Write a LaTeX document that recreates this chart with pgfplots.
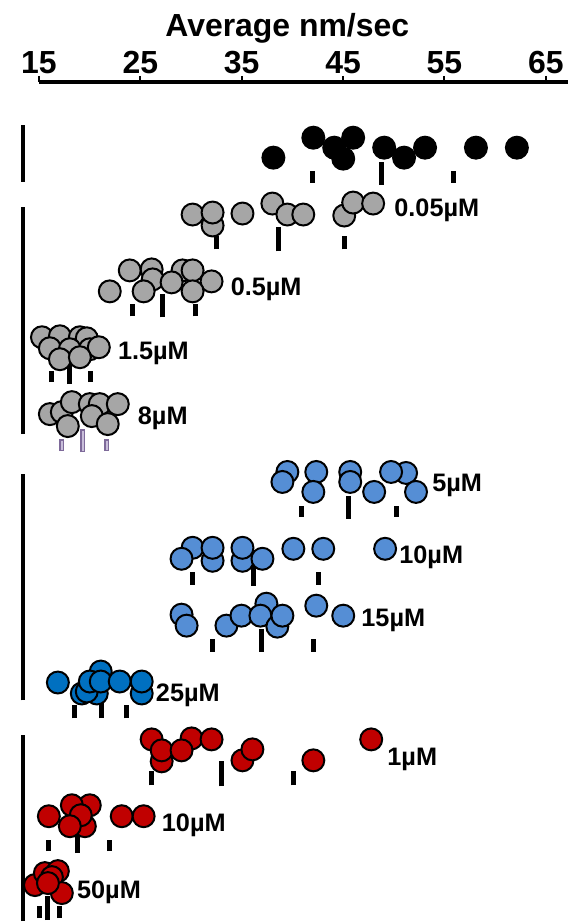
\documentclass[border=0pt]{standalone}
\usepackage{pgfplots}
\pgfplotsset{compat=1.18}
\usepackage{fontspec}
\setmainfont{Liberation Sans}
\definecolor{cgray}{HTML}{A6A6A6}
\definecolor{cblue}{HTML}{558ED5}
\definecolor{cdblue}{HTML}{0070C0}
\definecolor{cred}{HTML}{C00000}
\definecolor{cpurple}{HTML}{7E6A9A}
\definecolor{clpurple}{HTML}{C9BEDA}
\begin{document}
\begin{tikzpicture}
\begin{axis}[
  scale only axis, width=397.5pt, height=630.75pt,
  xmin=15, xmax=67.17, ymin=0, ymax=841,
  axis x line*=top, axis y line*=left,
  axis line style={line width=2.6pt},
  y axis line style={draw=none}, ytick=\empty,
  x axis line style={draw=black, line width=2.6pt},
  xtick={15,25,35,45,55,65},
  tick align=outside, major tick length=4.5pt,
  tick style={line width=1.6pt, black},
  xticklabel style={font=\fontsize{24}{24}\selectfont\bfseries, anchor=base, yshift=2pt},
  /pgf/number format/assume math mode=true,
  clip=false,
  unbounded coords=jump,
  every axis plot/.append style={forget plot},
]
% group brackets
\addplot[no marks, line width=3pt, black] coordinates {(13.43,741)(13.43,798)(nan,nan)(13.43,488)(13.43,716)(nan,nan)(13.43,221)(13.43,448)(nan,nan)(13.43,0)(13.43,186)};

% ---------- black row ----------
\addplot[only marks, mark=*, mark size=8.25pt, mark options={fill=black, draw=black, line width=1.5pt}] coordinates {
(38.13,765)(42.07,785)(44.13,775)(45.02,764)(46.00,785)(49.06,775)(51.02,765)(53.09,775)(58.11,775)(62.15,775)};
\addplot[no marks, line width=3.75pt, black] coordinates {(41.97,740)(41.97,752)(nan,nan)(48.76,738)(48.76,761)(nan,nan)(55.85,740)(55.85,752)};

% ---------- gray 0.05 ----------
\addplot[only marks, mark=*, mark size=8.25pt, mark options={fill=cgray, draw=black, line width=1.5pt}] coordinates {
(32.13,697)(30.16,708)(32.13,710)(35.08,709)(38.03,719)(39.51,708)(41.08,708)(45.12,707)(46.00,720)(47.97,719)};
\addplot[no marks, line width=3.75pt, black] coordinates {(32.52,673)(32.52,686)(nan,nan)(38.62,671)(38.62,695)(nan,nan)(45.12,673)(45.12,686)};

% ---------- gray 0.5 ----------
\addplot[only marks, mark=*, mark size=8.25pt, mark options={fill=cgray, draw=black, line width=1.5pt}] coordinates {
(23.96,652)(26.12,653)(29.17,652)(30.16,652)(26.22,643)(28.09,640)(32.03,641)(21.99,631)(25.33,631)(30.16,631)};
\addplot[no marks, line width=3.75pt, black] coordinates {(24.25,606)(24.25,618)(nan,nan)(27.20,605)(27.20,628)(nan,nan)(30.45,606)(30.45,618)};

% ---------- gray 1.5 ----------
\addplot[only marks, mark=*, mark size=8.25pt, mark options={fill=cgray, draw=black, line width=1.5pt}] coordinates {
(15.30,585)(17.07,586)(19.04,585)(19.72,584)(16.08,574)(18.05,573)(20.02,573)(20.91,575)(17.07,563)(19.04,565)};
\addplot[no marks, line width=3.75pt, black] coordinates {(16.28,540)(16.28,551)(nan,nan)(18.05,538)(18.05,560)(nan,nan)(20.12,540)(20.12,551)};

% ---------- gray 8 ----------
\addplot[only marks, mark=*, mark size=8.25pt, mark options={fill=cgray, draw=black, line width=1.5pt}] coordinates {
(16.08,508)(17.26,510)(18.25,520)(20.02,518)(21.00,518)(22.78,518)(17.85,496)(20.22,506)(21.79,498)};
\addplot[no marks, line width=3.75pt, cpurple] coordinates {(17.26,471)(17.26,483)(nan,nan)(19.33,470)(19.33,493)(nan,nan)(21.69,471)(21.69,483)};
\addplot[no marks, line width=1.5pt, clpurple] coordinates {(17.26,472.5)(17.26,481.5)(nan,nan)(19.33,471.5)(19.33,491.5)(nan,nan)(21.69,472.5)(21.69,481.5)};

% ---------- blue 5 ----------
\addplot[only marks, mark=*, mark size=8.25pt, mark options={fill=cblue, draw=black, line width=1.5pt}] coordinates {
(39.51,450)(39.02,440)(42.36,450)(42.07,430)(45.71,450)(45.71,440)(48.07,430)(51.22,449)(49.74,450)(52.20,430)};
\addplot[no marks, line width=3.75pt, black] coordinates {(40.89,405)(40.89,416)(nan,nan)(45.51,403)(45.51,426)(nan,nan)(50.24,405)(50.24,416)};

% ---------- blue 10 ----------
\addplot[only marks, mark=*, mark size=8.25pt, mark options={fill=cblue, draw=black, line width=1.5pt}] coordinates {
(30.16,374)(29.07,363)(32.13,361)(32.13,374)(35.08,361)(35.08,374)(37.05,363)(40.10,373)(43.05,373)(49.15,373)};
\addplot[no marks, line width=3.75pt, black] coordinates {(30.16,337)(30.16,350)(nan,nan)(36.16,336)(36.16,360)(nan,nan)(42.56,337)(42.56,350)};

% ---------- blue 15 ----------
\addplot[only marks, mark=*, mark size=8.25pt, mark options={fill=cblue, draw=black, line width=1.5pt}] coordinates {
(29.07,307)(29.57,296)(33.50,296)(34.98,306)(37.44,318)(36.85,306)(38.52,295)(39.02,306)(42.36,316)(45.02,306)};
\addplot[no marks, line width=3.75pt, black] coordinates {(32.13,270)(32.13,283)(nan,nan)(36.95,270)(36.95,293)(nan,nan)(42.07,270)(42.07,283)};

% ---------- blue 25 ----------
\addplot[only marks, mark=*, mark size=8.25pt, mark options={fill=cdblue, draw=black, line width=1.5pt}] coordinates {
(19.23,228)(20.71,228)(19.72,230)(25.14,228)(21.10,250)(20.02,240)(21.10,240)(22.97,240)(25.14,240)(16.87,239)};
\addplot[no marks, line width=3.75pt, black] coordinates {(18.54,203)(18.54,216)(nan,nan)(21.20,203)(21.20,225)(nan,nan)(23.66,203)(23.66,216)};

% ---------- red 1 ----------
\addplot[only marks, mark=*, mark size=8.25pt, mark options={fill=cred, draw=black, line width=1.5pt}] coordinates {
(27.11,160)(26.12,182)(27.11,171)(30.06,183)(29.07,171)(32.03,182)(35.08,161)(36.06,172)(42.07,161)(47.78,182)};
\addplot[no marks, line width=3.75pt, black] coordinates {(26.12,136)(26.12,150)(nan,nan)(33.01,135)(33.01,160)(nan,nan)(40.10,136)(40.10,150)};

% ---------- red 10 ----------
\addplot[only marks, mark=*, mark size=8.25pt, mark options={fill=cred, draw=black, line width=1.5pt}] coordinates {
(15.98,105)(20.02,116)(18.25,116)(19.53,95)(19.13,106)(18.05,95)(23.17,105)(25.33,105)};
\addplot[no marks, line width=3.75pt, black] coordinates {(15.98,70)(15.98,81)(nan,nan)(18.84,68)(18.84,91)(nan,nan)(21.99,70)(21.99,81)};

% ---------- red 50 ----------
\addplot[only marks, mark=*, mark size=8.25pt, mark options={fill=cred, draw=black, line width=1.5pt}] coordinates {
(14.61,36)(15.59,48)(16.87,50)(16.28,44)(17.26,28)(15.89,38)};
\addplot[no marks, line width=3.75pt, black] coordinates {(15.10,3)(15.10,15)(nan,nan)(15.89,1)(15.89,25)(nan,nan)(17.07,3)(17.07,15)};

% labels
\begin{scope}[every node/.style={anchor=base west, inner sep=0pt, font=\fontsize{19}{19}\selectfont\bfseries}]
\node at (axis cs:50.04,706) {0.05µM};
\node at (axis cs:33.90,627) {0.5µM};
\node at (axis cs:22.78,563) {1.5µM};
\node at (axis cs:24.74,498) {8µM};
\node at (axis cs:53.78,430) {5µM};
\node at (axis cs:50.53,358) {10µM};
\node at (axis cs:46.79,295) {15µM};
\node at (axis cs:26.52,220) {25µM};
\node at (axis cs:49.35,156) {1µM};
\node at (axis cs:27.11,90) {10µM};
\node at (axis cs:18.74,23) {50µM};
\end{scope}
\node[anchor=base, inner sep=0pt, font=\fontsize{24}{24}\selectfont\bfseries] at (axis cs:39.5,886) {Average nm/sec};
\path (axis cs:11.161,0) rectangle (axis cs:67.17,923);
\end{axis}
\end{tikzpicture}
\end{document}
